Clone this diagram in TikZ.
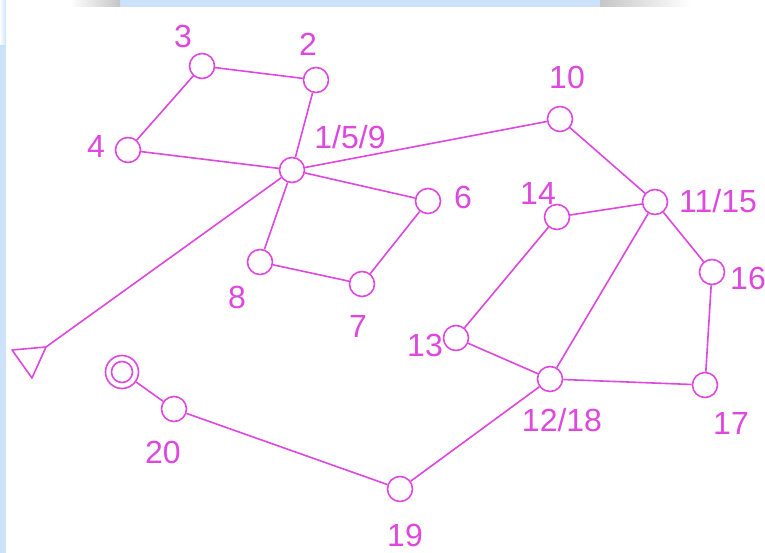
\documentclass[tikz,border=0pt]{standalone}
\usepackage{fontspec}
\setmainfont{Liberation Sans}
\definecolor{mag}{RGB}{222,72,222}
\definecolor{bgblue}{RGB}{204,226,250}
\begin{document}
\begin{tikzpicture}[x=1pt,y=-1pt,
  st/.style={circle,draw=mag,line width=1.6pt,fill=white,minimum size=25pt,inner sep=0pt},
  lb/.style={text=mag,font=\fontsize{32}{34}\selectfont,inner sep=0pt},
  ed/.style={draw=mag,line width=1.6pt}]
\useasboundingbox (0,0) rectangle (765,553);
\fill[white] (0,0) rectangle (765,553);
% background strips
\fill[bgblue] (0,45) rectangle (6,553);
\shade[left color=white,right color=bgblue] (0,0) rectangle (6,45);
\fill[bgblue] (120,0) rectangle (600,7);
\shade[left color=white,right color=gray!45] (70,0) rectangle (120,7);
\shade[left color=gray!45,right color=white] (600,0) rectangle (690,7);

% nodes
\node[st] (n3) at (202,66) {};
\node[st] (n2) at (316,80) {};
\node[st] (n4) at (128,150) {};
\node[st] (n159) at (292,170) {};
\node[st] (n10) at (560,119) {};
\node[st] (n6) at (428,201) {};
\node[st] (n14) at (557,217) {};
\node[st] (n1115) at (655,202) {};
\node[st] (n16) at (712,272) {};
\node[st] (n8) at (260,262) {};
\node[st] (n7) at (362,284) {};
\node[st] (n13) at (456,338) {};
\node[st] (n1218) at (550,379) {};
\node[st] (n17) at (705,385) {};
\node[st] (n20) at (174,409) {};
\node[st] (n19) at (400,489) {};
\node[circle,draw=mag,line width=1.6pt,fill=white,minimum size=33pt,inner sep=0pt] (start) at (122,372) {};
\draw[mag,line width=1.6pt] (start.center) circle (10.5);

% triangle
\coordinate (tri) at (46,347);
\draw[mag,line width=1.6pt,line join=round] (12,350) -- (tri) -- (32,378) -- cycle;

% labels
\node[lb] (l3) at (183,36) {3};
\node[lb] (l2) at (308,44) {2};
\node[lb] (l4) at (96,146) {4};
\node[lb] (l159) at (350,137) {1/5/9};
\node[lb] (l10) at (567,77) {10};
\node[lb] (l6) at (463,197) {6};
\node[lb] (l14) at (538,193) {14};
\node[lb] (l1115) at (718,201) {11/15};
\node[lb] (l16) at (748,278) {16};
\node[lb] (l8) at (237,297) {8};
\node[lb] (l7) at (358,326) {7};
\node[lb] (l13) at (425,345) {13};
\node[lb] (l1218) at (562,420) {12/18};
\node[lb] (l17) at (731,423) {17};
\node[lb] (l20) at (163,452) {20};
\node[lb] (l19) at (405,535) {19};

% edges
\path[ed] (n3) -- (n2);
\path[ed] (n3) -- (n4);
\path[ed] (n2) -- (n159);
\path[ed] (n4) -- (n159);
\path[ed] (n159) -- (n10);
\path[ed] (n159) -- (n6);
\path[ed] (n159) -- (n8);
\path[ed] (n159) -- (tri);
\path[ed] (n8) -- (n7);
\path[ed] (n7) -- (n6);
\path[ed] (n10) -- (n1115);
\path[ed] (n14) -- (n1115);
\path[ed] (n14) -- (n13);
\path[ed] (n13) -- (n1218);
\path[ed] (n1115) -- (n1218);
\path[ed] (n1115) -- (n16);
\path[ed] (n16) -- (n17);
\path[ed] (n17) -- (n1218);
\path[ed] (n1218) -- (n19);
\path[ed] (n19) -- (n20);
\path[ed] (n20) -- (start);
\end{tikzpicture}
\end{document}
